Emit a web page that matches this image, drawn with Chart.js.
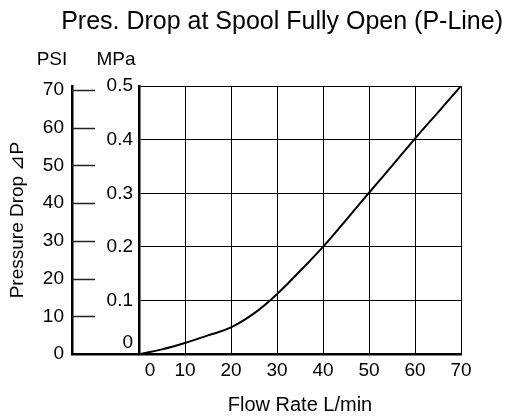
<!DOCTYPE html>
<html>
<head>
<meta charset="utf-8">
<script src="https://cdn.jsdelivr.net/npm/chart.js@4"></script>
<style>
  html, body { margin: 0; padding: 0; background: #fff; }
  #wrap { width: 507px; height: 417px; }
</style>
</head>
<body>
<div id="wrap"><canvas id="chart"></canvas></div>
<script>
// Pressure drop curve, P-line, spool fully open
var flowRate = [0, 5, 10, 15, 20, 25, 30, 35, 40, 45, 50, 55, 60, 65, 70];
var pressureMPa = [0, 0.009, 0.021, 0.035, 0.05, 0.076, 0.112, 0.155, 0.2, 0.25, 0.301, 0.351, 0.402, 0.451, 0.5];

var xTicks = [0, 10, 20, 30, 40, 50, 60, 70];
var mpaTicks = [0, 0.1, 0.2, 0.3, 0.4, 0.5];
var psiTicks = [0, 10, 20, 30, 40, 50, 60, 70];
var psiMax = 71;

var font = '"Liberation Sans", Arial, Helvetica, sans-serif';
Chart.defaults.font.family = font;
Chart.defaults.color = "#000";

var points = flowRate.map(function (x, i) {
  return { x: x, y: pressureMPa[i] };
});

// short PSI ticks, base line under both y axes, unit labels and the two offset zeros
var extrasPlugin = {
  id: "extras",
  afterDraw: function (chart) {
    var ctx = chart.ctx;
    var psi = chart.scales.psi;
    var mpa = chart.scales.mpa;
    var xs = chart.scales.x;
    var area = chart.chartArea;
    ctx.save();
    ctx.strokeStyle = "#222";
    ctx.lineWidth = 1.5;
    psiTicks.forEach(function (v) {
      if (v === 0) return;
      var y = Math.round(psi.getPixelForValue(v)) + 0.5;
      ctx.beginPath();
      ctx.moveTo(psi.right, y);
      ctx.lineTo(psi.right + 23, y);
      ctx.stroke();
    });
    ctx.strokeStyle = "#000";
    ctx.lineWidth = 2.5;
    ctx.beginPath();
    ctx.moveTo(psi.right - 1, area.bottom);
    ctx.lineTo(area.left, area.bottom);
    ctx.stroke();

    ctx.fillStyle = "#000";
    ctx.font = "19px " + font;
    ctx.textAlign = "center";
    ctx.textBaseline = "middle";
    ctx.fillText("PSI", psi.right - 20, area.top - 26);
    ctx.fillText("MPa", mpa.right - 23, area.top - 26);

    // zeros sit off their grid lines in the original
    ctx.textAlign = "right";
    ctx.fillText("0", mpa.right - 6, mpa.getPixelForValue(0) - 11);
    ctx.textAlign = "center";
    ctx.fillText("0", xs.getPixelForValue(0) + 11, area.bottom + 17);
    ctx.restore();
  }
};

new Chart(document.getElementById("chart"), {
  type: "line",
  data: {
    datasets: [{
      data: points,
      yAxisID: "mpa",
      borderColor: "#000",
      borderWidth: 2,
      pointRadius: 0,
      tension: 0.4,
      fill: false
    }]
  },
  options: {
    responsive: true,
    maintainAspectRatio: false,
    animation: false,
    layout: { padding: { left: 0, right: 4, top: 0, bottom: 0 } },
    plugins: {
      legend: { display: false },
      tooltip: { enabled: false },
      title: {
        display: true,
        text: "Pres. Drop at Spool Fully Open (P-Line)",
        align: "end",
        font: { size: 25, weight: "normal" },
        color: "#000",
        padding: { top: 7, bottom: 49 }
      }
    },
    scales: {
      x: {
        type: "linear",
        min: 0,
        max: 70,
        afterBuildTicks: function (s) {
          s.ticks = xTicks.map(function (v) { return { value: v }; });
        },
        ticks: {
          font: { size: 19 },
          color: "#000",
          padding: 5,
          callback: function (v) { return v === 0 ? "" : String(v); }
        },
        grid: { color: "#000", lineWidth: 1, drawTicks: false },
        border: { color: "#000", width: 2.5 },
        title: {
          display: true,
          text: "Flow Rate L/min",
          font: { size: 20 },
          color: "#000",
          padding: { top: 6, bottom: 0 }
        }
      },
      psi: {
        type: "linear",
        position: "left",
        weight: 1,
        min: 0,
        max: psiMax,
        afterBuildTicks: function (s) {
          s.ticks = psiTicks.map(function (v) { return { value: v }; });
        },
        ticks: { font: { size: 19 }, color: "#000", padding: 8 },
        grid: { drawOnChartArea: false, drawTicks: false },
        border: { color: "#000", width: 2.5 },
        title: {
          display: true,
          text: "Pressure Drop \u22BFP",
          font: { size: 19 },
          color: "#000",
          padding: { top: 6, bottom: 0 }
        },
        afterFit: function (s) { s.width = 72; }
      },
      mpa: {
        type: "linear",
        position: "left",
        weight: 0,
        min: 0,
        max: 0.5,
        afterBuildTicks: function (s) {
          s.ticks = mpaTicks.map(function (v) { return { value: v }; });
        },
        ticks: {
          font: { size: 19 },
          color: "#000",
          padding: 6,
          callback: function (v) { return v === 0 ? "" : v.toFixed(1); }
        },
        grid: { color: "#000", lineWidth: 1, drawTicks: false },
        border: { color: "#000", width: 2.5 },
        afterFit: function (s) { s.width = 67; }
      },
      pad: {
        type: "linear",
        axis: "y",
        position: "right",
        display: true,
        ticks: { display: false },
        grid: { display: false },
        border: { display: false },
        afterFit: function (s) { s.width = 42; }
      }
    }
  },
  plugins: [extrasPlugin]
});
</script>
</body>
</html>
